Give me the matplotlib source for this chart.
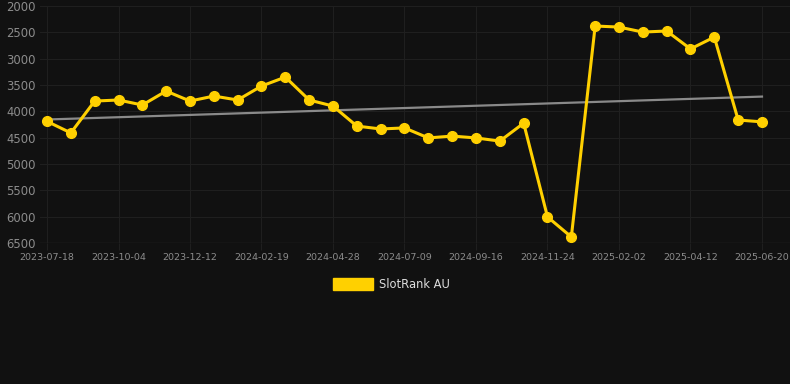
import matplotlib
matplotlib.use("Agg")
import matplotlib.pyplot as plt
import numpy as np

dates = ["2023-07-18", "", "", "2023-10-04", "", "", "2023-12-12", "", "",
         "2024-02-19", "", "", "2024-04-28", "", "", "2024-07-09", "", "",
         "2024-09-16", "", "", "2024-11-24", "", "", "2025-02-02", "", "",
         "2025-04-12", "", "", "2025-06-20"]
rank = [4190, 4410, 3805, 3785, 3880, 3615, 3805, 3710, 3785, 3520, 3350,
        3785, 3900, 4280, 4335, 4315, 4505, 4470, 4505, 4565, 4225, 6005,
        6385, 2380, 2400, 2495, 2475, 2815, 2590, 4165, 4200]
trend = [4155, 3720]  # trend line values at first and last date
yticks = [2000, 2500, 3000, 3500, 4000, 4500, 5000, 5500, 6000, 6500]
series_name = "SlotRank AU"

BG = "#111111"
GOLD = "#FFD000"
W, H = 790, 384

fig = plt.figure(figsize=(W / 100, H / 100), dpi=100, facecolor=BG)
ax = fig.add_axes([40 / W, 1 - 243 / H, 750 / W, (243 - 6) / H], facecolor=BG)

x = np.arange(len(rank))
ax.set_xlim(-7 / 23.83, 30 + 28 / 23.83)
ax.set_ylim(6500, 2000)

ax.plot([x[0], x[-1]], trend, color="#8a8a8a", lw=1.6, zorder=2)

ax.plot(x, rank, color=GOLD, lw=2.2, marker="o", markersize=7, zorder=3,
        solid_joinstyle="round")

tick_idx = [i for i, d in enumerate(dates) if d]
ax.set_xticks(tick_idx)
ax.set_xticklabels([dates[i] for i in tick_idx])
ax.set_yticks(yticks)
ax.set_yticklabels([str(v) for v in yticks])

ax.grid(True, color="#1f1f1f", lw=0.8, zorder=0)
for s in ax.spines.values():
    s.set_visible(False)
ax.axhline(6500, color="#2a2a2a", lw=1, zorder=1)
ax.tick_params(axis="x", colors="#1f1f1f", labelcolor="#8c8c8c", labelsize=6.8,
               length=5, width=0.8, pad=2)
ax.tick_params(axis="y", length=0, labelcolor="#8c8c8c", labelsize=8.4, pad=3)

# legend
fig.patches.append(plt.Rectangle((333 / W, 1 - 290 / H), 40 / W, 12 / H,
                                 transform=fig.transFigure, color=GOLD))
fig.text(379 / W, 1 - 284.5 / H, series_name, color="#dddddd", fontsize=8.3,
         va="center", ha="left")

fig.savefig("out.png", dpi=100, facecolor=BG)
